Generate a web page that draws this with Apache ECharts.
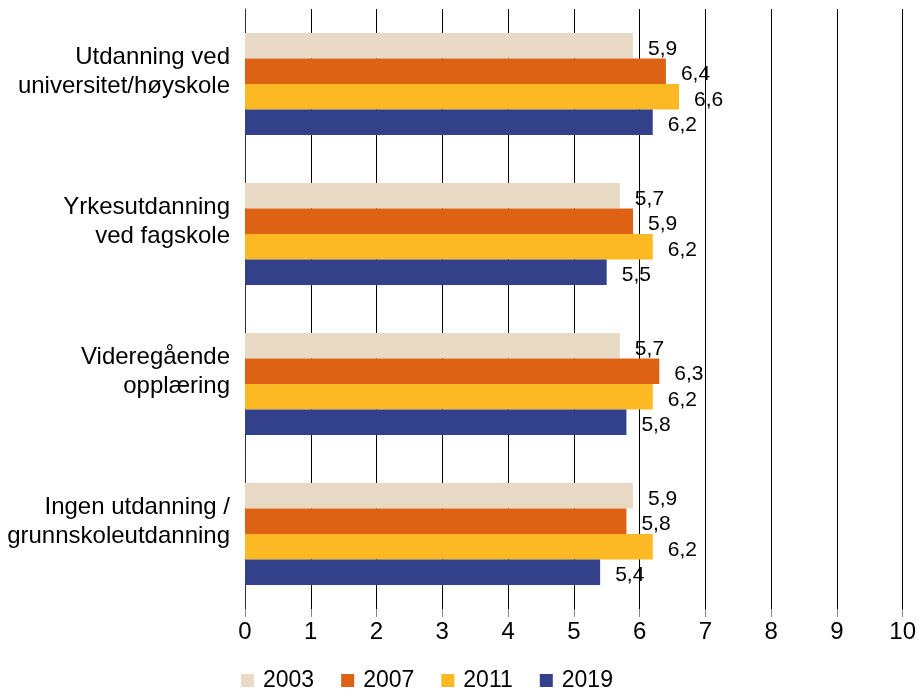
<!DOCTYPE html>
<html>
<head>
<meta charset="utf-8">
<script src="https://cdn.jsdelivr.net/npm/echarts@6/dist/echarts.min.js"></script>
<style>
html,body{margin:0;padding:0;background:#fff;}
#chart{width:919px;height:689px;}
</style>
</head>
<body>
<div id="chart"></div>
<script>
const categories = [
  "Utdanning ved\nuniversitet/høyskole",
  "Yrkesutdanning\nved fagskole",
  "Videregående\nopplæring",
  "Ingen utdanning /\ngrunnskoleutdanning"
];
const seriesNames = ["2003", "2007", "2011", "2019"];
const values2003 = [5.9, 5.7, 5.7, 5.9];
const values2007 = [6.4, 5.9, 6.3, 5.8];
const values2011 = [6.6, 6.2, 6.2, 6.2];
const values2019 = [6.2, 5.5, 5.8, 5.4];
const xTicks = [0, 1, 2, 3, 4, 5, 6, 7, 8, 9, 10];
const colors = ["#e9dac6", "#de6214", "#fcb923", "#32418a"];

const FONT = "Liberation Sans, Arial, sans-serif";
const allValues = [values2003, values2007, values2011, values2019];

const chart = echarts.init(document.getElementById('chart'), null, {renderer: 'canvas'});
chart.setOption({
  animation: false,
  backgroundColor: '#fff',
  textStyle: {fontFamily: FONT},
  grid: {left: 245, right: 14, top: 9, bottom: 80, containLabel: false},
  legend: {
    data: seriesNames,
    left: 236,
    top: 664,
    icon: 'rect',
    itemWidth: 13,
    itemHeight: 13,
    itemGap: 27,
    textStyle: {fontSize: 23, color: '#000', fontFamily: FONT, padding: [0, 0, 0, 4]}
  },
  xAxis: {
    type: 'value',
    min: xTicks[0],
    max: xTicks[xTicks.length - 1],
    interval: 1,
    axisLine: {show: false},
    axisTick: {show: true, length: 8, lineStyle: {color: '#888'}},
    axisLabel: {fontSize: 24, color: '#000', margin: 11, fontFamily: FONT},
    splitLine: {show: true, lineStyle: {color: '#000', width: 1}}
  },
  yAxis: {
    type: 'category',
    inverse: true,
    data: categories,
    axisLine: {show: true, lineStyle: {color: '#333', width: 1}},
    axisTick: {show: false},
    axisLabel: {
      fontSize: 24, lineHeight: 29, color: '#000', margin: 15, align: 'right', fontFamily: FONT,
      formatter: v => v + '\n{s| }',
      rich: {s: {fontSize: 10, lineHeight: 24}}
    }
  },
  series: seriesNames.map((name, i) => ({
    name: name,
    type: 'bar',
    data: allValues[i],
    barGap: '0%',
    barCategoryGap: '32%',
    itemStyle: {color: colors[i]},
    label: {
      show: true,
      position: 'right',
      distance: 15,
      offset: [0, 3],
      fontSize: 21,
      color: '#000',
      fontFamily: FONT,
      formatter: p => p.value.toFixed(1).replace('.', ',')
    }
  }))
});
</script>
</body>
</html>
